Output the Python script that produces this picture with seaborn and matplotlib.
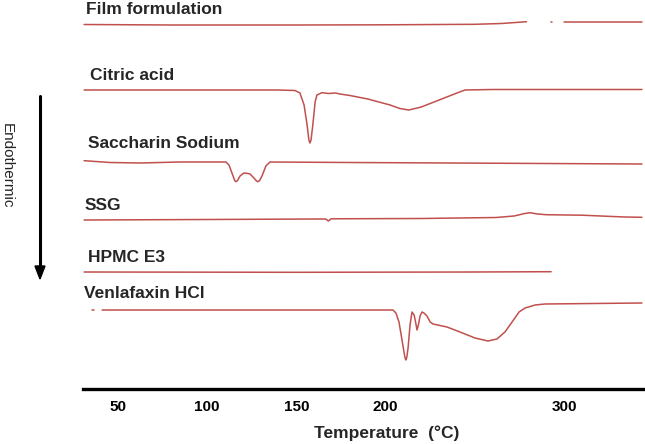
import numpy as np
import pandas as pd
import seaborn as sns
import matplotlib.pyplot as plt

sns.set_theme(style="white")
plt.rcParams['font.family'] = ['Liberation Sans', 'DejaVu Sans']

# DSC traces: temperature (°C) and deflection from baseline (downward = endothermic)
film_t1 = [31, 80, 150, 200, 250, 265, 279]
film_d1 = [0.5, 1, 1, 0.8, 0.3, -0.5, -2.3]
film_t2 = [292.5, 293.5]
film_d2 = [-2, -2]
film_t3 = [300, 343.7]
film_d3 = [-1.7, -1.7]

citric_t = [31, 100, 140, 149.2, 152, 154.3, 156, 157.0, 157.6, 158.2, 159.2, 160.5, 161.5, 164.3,
            168, 172, 174.4, 180, 190, 202.5, 208, 213, 220, 230, 240, 244.5, 260, 343.7]
citric_d = [0, 0, 0, 0.5, 3, 15, 35, 50, 53, 50, 35, 12, 5, 2.7,
            3.5, 3, 4, 5.5, 9, 15, 18.5, 20, 17, 10, 3, 0, -0.5, -0.5]

sacch_t = [31, 45.5, 62.3, 84.8, 110.5, 112.2, 114.5, 115.4, 116.1, 117, 118.4, 120.6, 122.3, 124.0,
           126.2, 127.6, 128.5, 129.4, 130.7, 132.9, 135.2, 180, 236, 343.7]
sacch_d = [-1.3, 0.5, 1, 0, 0, 3, 14, 18.5, 19.7, 18.5, 14, 11, 11.3, 12,
           16, 19, 19.7, 18.5, 14, 4, 0, 0.5, 1, 2]

ssg_t = [31, 100, 160, 166.5, 167.9, 169.5, 220, 262, 272, 278, 281, 285, 290, 310, 334, 343.7]
ssg_d = [0, -0.5, -1, -1, 1, -1.2, -1.5, -2.5, -4, -6.5, -7.3, -6, -5.3, -4.8, -3, -2.7]

hpmc_t = [31, 150, 250, 292.8]
hpmc_d = [0, 0.3, 0, -0.3]

venla_t0 = [35.5, 36.5]
venla_d0 = [0, 0]
venla_t = [41.1, 96, 204.1, 205.8, 207.5, 209.2, 210.3, 210.9, 211.4, 211.9, 212.6, 213.7, 214.8,
           216, 216.8, 217.6, 218.5, 219.3, 220.4, 221.5, 223.2, 225, 226.6, 234.4, 241.7, 250.1,
           257.4, 262.4, 266.9, 270.9, 274.8, 278.2, 283.8, 289.4, 343.7]
venla_d = [0, 0, 0, 3, 12, 30, 42, 48, 50, 47, 38, 15, 2,
           5, 12, 20, 14, 6, 2, 3, 6, 12, 14, 17, 22, 28,
           31, 29, 22, 12, 2, -2, -5, -6, -7]

names = ["Film formulation", "Citric acid", "Saccharin Sodium", "SSG", "HPMC E3", "Venlafaxin HCl"]
tick_vals = [50, 100, 150, 200, 300]

# layout (pixel positions in the 645x444 picture)
W, H = 645, 444
baselines = {"Film formulation": 24, "Citric acid": 90, "Saccharin Sodium": 162,
             "SSG": 220, "HPMC E3": 272, "Venlafaxin HCl": 310}
label_pos = {"Film formulation": (86, 10), "Citric acid": (90, 75), "Saccharin Sodium": (88, 143),
             "SSG": (85, 205), "HPMC E3": (88, 257), "Venlafaxin HCl": (84, 293)}
axis_y = 389

segments = [
    ("Film formulation", 0, film_t1, film_d1),
    ("Film formulation", 1, film_t2, film_d2),
    ("Film formulation", 2, film_t3, film_d3),
    ("Citric acid", 0, citric_t, citric_d),
    ("Saccharin Sodium", 0, sacch_t, sacch_d),
    ("SSG", 0, ssg_t, ssg_d),
    ("HPMC E3", 0, hpmc_t, hpmc_d),
    ("Venlafaxin HCl", 0, venla_t0, venla_d0),
    ("Venlafaxin HCl", 1, venla_t, venla_d),
]
rows = []
for name, seg, ts, ds in segments:
    for t, d in zip(ts, ds):
        rows.append({"curve": name, "seg": f"{name}-{seg}", "T": t,
                     "y": axis_y - baselines[name] - d})
df = pd.DataFrame(rows)

fig = plt.figure(figsize=(W / 100, H / 100), dpi=100)
ax = fig.add_axes([83 / W, (H - axis_y) / H, (W - 83) / W, axis_y / H])

sns.lineplot(data=df, x="T", y="y", hue="curve", units="seg", estimator=None, sort=False,
             palette={n: "#c0504d" for n in names}, linewidth=1.1, legend=False, ax=ax)

ax.set_xlim((83 - 28.8) / 1.784, (645 - 28.8) / 1.784)
ax.set_ylim(0, axis_y)
for s in ["left", "right", "top"]:
    ax.spines[s].set_visible(False)
ax.spines["bottom"].set_color("black")
ax.spines["bottom"].set_linewidth(2.4)
ax.set_yticks([])
ax.set_xticks(tick_vals)
ax.set_xticklabels([str(v) for v in tick_vals], fontsize=11, fontweight="bold")
ax.tick_params(axis="x", length=0, pad=8, colors="black")
ax.set_xlabel("")
ax.set_ylabel("")

for n in names:
    x, y = label_pos[n]
    fig.text(x / W, 1 - y / H, n, fontsize=12.5, fontweight="bold", ha="left", va="center")

fig.text(387 / W, 1 - 433 / H, "Temperature  (°C)", fontsize=12.5, fontweight="bold",
         ha="center", va="center")
fig.text(7 / W, 1 - 166 / H, "Endothermic", fontsize=11, rotation=-90, ha="center", va="center")
fig.add_artist(plt.Line2D([40 / W, 40 / W], [1 - 96 / H, 1 - 268 / H], color="black", lw=2.2))
fig.patches.append(plt.Polygon([[35 / W, 1 - 266 / H], [45 / W, 1 - 266 / H], [40 / W, 1 - 279 / H]],
                               closed=True, color="black", transform=fig.transFigure, figure=fig))

fig.savefig("out.png", dpi=100)
